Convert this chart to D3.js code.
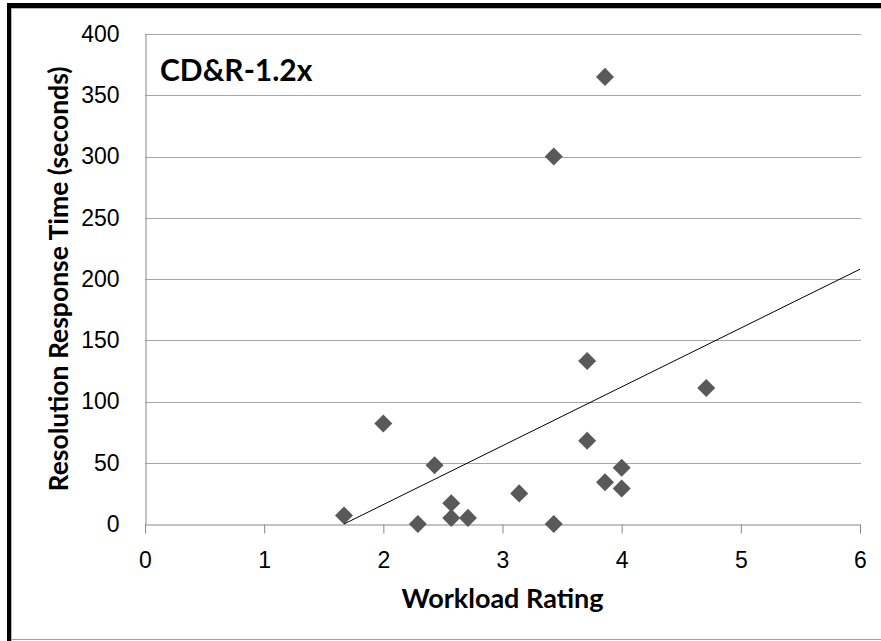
<!DOCTYPE html>
<html>
<head>
<meta charset="utf-8">
<script src="https://cdn.jsdelivr.net/npm/d3@7"></script>
<style>
  body { margin: 0; background: #fff; }
  svg { display: block; font-family: Lato, "Open Sans", sans-serif; }
</style>
</head>
<body>
<div id="chart"></div>
<script>
// values
let workload = [1.67, 2.0, 2.29, 2.43, 2.57, 2.57, 2.71, 3.14, 3.43, 3.43, 3.71, 3.71, 3.86, 3.86, 4.0, 4.0, 4.71];
let response = [7, 82, 0, 48, 17, 5, 5, 25, 0, 300, 133, 68, 365, 34, 46, 29, 111];
let trendLine = [[1.67, 0], [6, 208]];
let xTicks = [0, 1, 2, 3, 4, 5, 6];
let yTicks = [0, 50, 100, 150, 200, 250, 300, 350, 400];
let chartTitle = "CD&R-1.2x";
let xTitle = "Workload Rating";
let yTitle = "Resolution Response Time (seconds)";

let points = workload.map((w, i) => ({x: w, y: response[i]}));

let W = 881, H = 641;
let margin = {top: 34, right: 21, bottom: 117, left: 145};
let width = W - margin.left - margin.right,
    height = H - margin.top - margin.bottom;

let x = d3.scaleLinear().domain([0, 6]).range([0, width]);
let y = d3.scaleLinear().domain([0, 400]).range([height, 0]);

let svg = d3.select("#chart").append("svg")
    .attr("width", W)
    .attr("height", H);

// frame around the picture
svg.append("rect").attr("x", 7).attr("y", 3).attr("width", W - 7).attr("height", 5).attr("fill", "#000");
svg.append("rect").attr("x", 7).attr("y", 3).attr("width", 4).attr("height", H - 3).attr("fill", "#000");
svg.append("line").attr("x1", 11).attr("x2", W).attr("y1", 8.5).attr("y2", 8.5).attr("stroke", "#b4b4b4");
svg.append("line").attr("x1", 11.5).attr("x2", 11.5).attr("y1", 8).attr("y2", H).attr("stroke", "#b4b4b4");
svg.append("line").attr("x1", 11).attr("x2", W).attr("y1", 639.5).attr("y2", 639.5).attr("stroke", "#a0a0a0");

let g = svg.append("g")
    .attr("transform", "translate(" + margin.left + "," + margin.top + ")");

// horizontal gridlines
g.append("g")
  .selectAll("line")
  .data(yTicks.filter(d => d > 0))
  .enter().append("line")
  .attr("x1", 0)
  .attr("x2", width + 1)
  .attr("y1", d => Math.round(y(d)) + 0.5)
  .attr("y2", d => Math.round(y(d)) + 0.5)
  .attr("stroke", "#a6a6a6")
  .attr("stroke-width", 1);

// y axis: line only, labels on the left
let yAxis = d3.axisLeft(y).tickValues(yTicks).tickSize(0).tickPadding(26);
g.append("g")
  .attr("class", "y axis")
  .attr("transform", "translate(0.5,0)")
  .call(yAxis)
  .call(s => s.select(".domain").attr("stroke", "#868686"))
  .call(s => s.selectAll("text").attr("font-size", 23).attr("fill", "#000"));

// x axis with ticks below
let xAxis = d3.axisBottom(x).tickValues(xTicks).tickFormat(d3.format("d"))
    .tickSizeInner(9).tickSizeOuter(0).tickPadding(18);
g.append("g")
  .attr("class", "x axis")
  .attr("transform", "translate(0," + (Math.round(height) + 0.5) + ")")
  .call(xAxis)
  .call(s => s.select(".domain").attr("stroke", "#868686"))
  .call(s => s.selectAll(".tick line").attr("stroke", "#868686"))
  .call(s => s.selectAll("text").attr("font-size", 23).attr("fill", "#000"));

// markers
let diamond = d3.symbol().type(d3.symbolSquare).size(162);
g.selectAll(".pt")
  .data(points)
  .enter().append("path")
  .attr("class", "pt")
  .attr("d", diamond)
  .attr("transform", d => "translate(" + x(d.x) + "," + y(d.y) + ") rotate(45)")
  .attr("fill", "#595959");

// linear trendline
g.append("path")
  .datum(trendLine)
  .attr("d", d3.line().x(d => x(d[0])).y(d => y(d[1])))
  .attr("fill", "none")
  .attr("stroke", "#000")
  .attr("stroke-width", 1);

// titles
g.append("text")
  .attr("x", 15)
  .attr("y", 81 - margin.top)
  .attr("font-size", 30)
  .attr("font-weight", "bold")
  .text(chartTitle);

svg.append("text")
  .attr("x", margin.left + width / 2)
  .attr("y", 608)
  .attr("text-anchor", "middle")
  .attr("font-size", 27)
  .attr("font-weight", "bold")
  .text(xTitle);

svg.append("text")
  .attr("transform", "translate(68," + (margin.top + height / 2) + ") rotate(-90)")
  .attr("text-anchor", "middle")
  .attr("font-size", 26.5)
  .attr("font-weight", "bold")
  .text(yTitle);
</script>
</body>
</html>
